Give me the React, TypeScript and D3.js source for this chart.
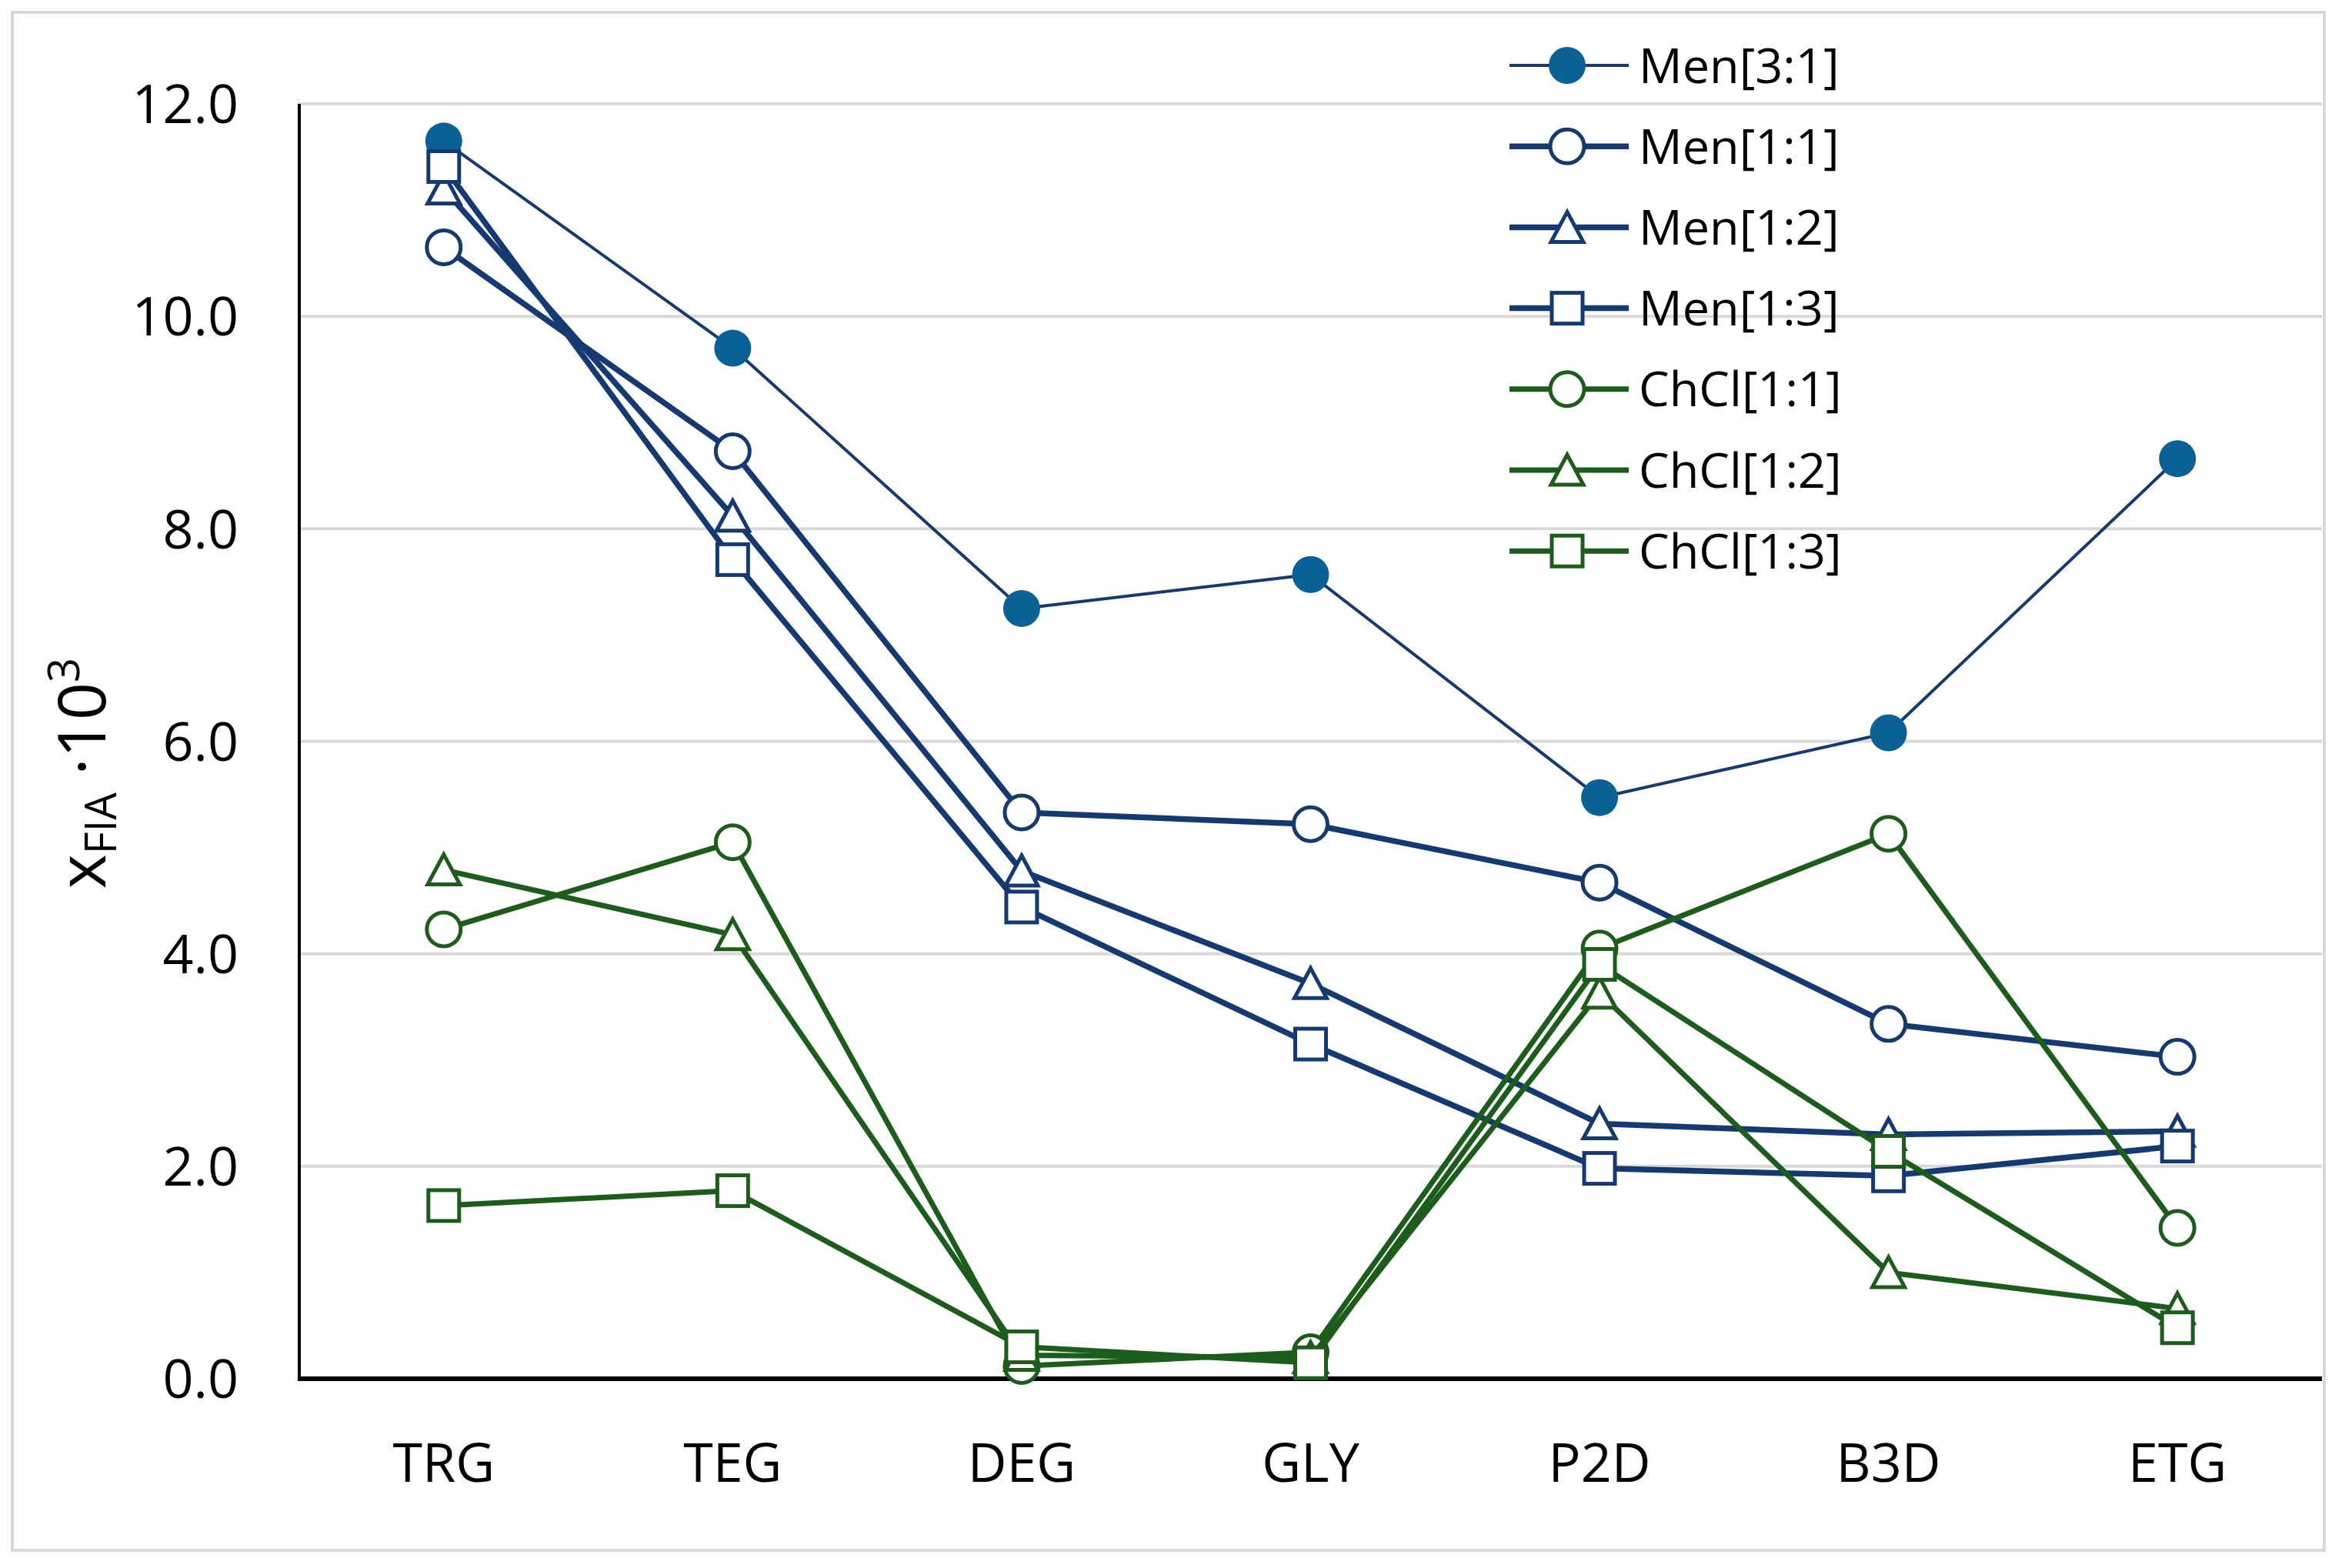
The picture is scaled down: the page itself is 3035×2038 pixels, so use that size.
import { useEffect, useRef } from "react"
import * as d3 from "d3"

// categories on the x axis
const solvents = ["TRG", "TEG", "DEG", "GLY", "P2D", "B3D", "ETG"]

// x_FIA * 10^3 per solvent
const men31 = [11.65, 9.7, 7.25, 7.57, 5.47, 6.08, 8.66]
const men11 = [10.65, 8.73, 5.33, 5.22, 4.67, 3.34, 3.03]
const men12 = [11.2, 8.12, 4.78, 3.72, 2.4, 2.3, 2.33]
const men13 = [11.41, 7.71, 4.44, 3.15, 1.98, 1.91, 2.19]
const chcl11 = [4.23, 5.05, 0.12, 0.25, 4.05, 5.13, 1.42]
const chcl12 = [4.79, 4.18, 0.22, 0.2, 3.63, 1.0, 0.66]
const chcl13 = [1.63, 1.77, 0.3, 0.15, 3.9, 2.14, 0.48]

const yTicks = [0, 2, 4, 6, 8, 10, 12]

const NAVY = "#153a72"
const BLUE = "#0a6196"
const GREEN = "#1d5d1c"

type Shape = "dot" | "circle" | "triangle" | "square"

const series: { name: string; values: number[]; color: string; shape: Shape; lw: number }[] = [
  { name: "Men[3:1]", values: men31, color: NAVY, shape: "dot", lw: 4 },
  { name: "Men[1:1]", values: men11, color: NAVY, shape: "circle", lw: 7.5 },
  { name: "Men[1:2]", values: men12, color: NAVY, shape: "triangle", lw: 7.5 },
  { name: "Men[1:3]", values: men13, color: NAVY, shape: "square", lw: 7.5 },
  { name: "ChCl[1:1]", values: chcl11, color: GREEN, shape: "circle", lw: 7 },
  { name: "ChCl[1:2]", values: chcl12, color: GREEN, shape: "triangle", lw: 7 },
  { name: "ChCl[1:3]", values: chcl13, color: GREEN, shape: "square", lw: 7 },
]

const W = 3035
const H = 2038
const FONT = "'Open Sans', 'Noto Sans', sans-serif"

function drawMarker(g: d3.Selection<SVGGElement, unknown, null, undefined>, shape: Shape, color: string) {
  if (shape === "dot") {
    g.append("circle").attr("r", 24).attr("fill", BLUE)
  } else if (shape === "circle") {
    g.append("circle").attr("r", 22).attr("fill", "white").attr("stroke", color).attr("stroke-width", 5)
  } else if (shape === "square") {
    g.append("rect").attr("x", -20).attr("y", -20).attr("width", 40).attr("height", 40)
      .attr("fill", "white").attr("stroke", color).attr("stroke-width", 5)
  } else {
    g.append("path").attr("d", "M0,-20L21,19L-21,19Z")
      .attr("fill", "white").attr("stroke", color).attr("stroke-width", 5).attr("stroke-linejoin", "miter")
  }
}

export default function App() {
  const svgRef = useRef<SVGSVGElement | null>(null)

  useEffect(() => {
    if (!svgRef.current) return
    const svg = d3.select(svgRef.current)
    svg.selectAll("*").remove()

    const left = 389
    const right = 3018
    const top = 135
    const bottom = 1792

    // outer frame
    svg.append("rect").attr("x", 16).attr("y", 16).attr("width", 3005).attr("height", 1999)
      .attr("fill", "white").attr("stroke", "#d9d9d9").attr("stroke-width", 4)

    const x = d3.scaleBand().domain(solvents).range([left, right]).padding(0)
    const cx = (c: string) => (x(c) as number) + x.bandwidth() / 2
    const y = d3.scaleLinear().domain([0, 12]).range([bottom, top])

    // grid lines
    svg.append("g")
      .selectAll("line")
      .data(yTicks.filter((t) => t > 0))
      .enter()
      .append("line")
      .attr("x1", left)
      .attr("x2", right)
      .attr("y1", (d) => y(d))
      .attr("y2", (d) => y(d))
      .attr("stroke", "#d9d9d9")
      .attr("stroke-width", 4)

    // axes
    svg.append("line").attr("x1", left).attr("x2", left).attr("y1", top).attr("y2", bottom)
      .attr("stroke", "black").attr("stroke-width", 4)
    svg.append("line").attr("x1", left - 2).attr("x2", right).attr("y1", bottom).attr("y2", bottom)
      .attr("stroke", "black").attr("stroke-width", 6)

    // y tick labels
    svg.append("g")
      .selectAll("text")
      .data(yTicks)
      .enter()
      .append("text")
      .attr("x", 310)
      .attr("y", (d) => y(d))
      .attr("dy", "0.36em")
      .attr("text-anchor", "end")
      .attr("font-family", FONT)
      .attr("font-size", 70)
      .attr("fill", "black")
      .text((d) => d.toFixed(1))

    // x category labels
    svg.append("g")
      .selectAll("text")
      .data(solvents)
      .enter()
      .append("text")
      .attr("x", (d) => cx(d))
      .attr("y", 1901)
      .attr("dy", "0.36em")
      .attr("text-anchor", "middle")
      .attr("font-family", FONT)
      .attr("font-size", 70)
      .attr("fill", "black")
      .text((d) => d)

    // y axis title
    const yt = svg.append("text")
      .attr("transform", "translate(137,1005) rotate(-90)")
      .attr("text-anchor", "middle")
      .attr("font-family", FONT)
      .attr("font-size", 86)
      .attr("fill", "black")
    yt.append("tspan").text("x")
    yt.append("tspan").attr("font-size", 56).attr("dy", 14).text("FIA")
    yt.append("tspan").attr("dy", -14).text(" ·10")
    yt.append("tspan").attr("font-size", 56).attr("dy", -34).text("3")

    const line = d3.line<number>()
      .x((_, i) => cx(solvents[i]))
      .y((d) => y(d))

    // series
    series.forEach((s) => {
      const g = svg.append("g")
      g.append("path")
        .attr("d", line(s.values) as string)
        .attr("fill", "none")
        .attr("stroke", s.color)
        .attr("stroke-width", s.lw)
        .attr("stroke-linejoin", "round")
      s.values.forEach((v, i) => {
        const m = g.append("g").attr("transform", `translate(${cx(solvents[i])},${y(v)})`)
        drawMarker(m, s.shape, s.color)
      })
    })

    // legend
    const lg = svg.append("g")
    series.forEach((s, i) => {
      const ly = 85 + i * 105.2
      lg.append("line").attr("x1", 1962).attr("x2", 2117).attr("y1", ly).attr("y2", ly)
        .attr("stroke", s.color).attr("stroke-width", s.lw)
      const m = lg.append("g").attr("transform", `translate(2037,${ly})`)
      drawMarker(m, s.shape, s.color)
      lg.append("text")
        .attr("x", 2130)
        .attr("y", ly)
        .attr("dy", "0.36em")
        .attr("font-family", FONT)
        .attr("font-size", 63)
        .attr("fill", "black")
        .text(s.name)
    })
  }, [])

  return (
    <svg
      ref={svgRef}
      width={W}
      height={H}
      style={{ position: "absolute", left: 0, top: 0, background: "white" }}
    ></svg>
  )
}
